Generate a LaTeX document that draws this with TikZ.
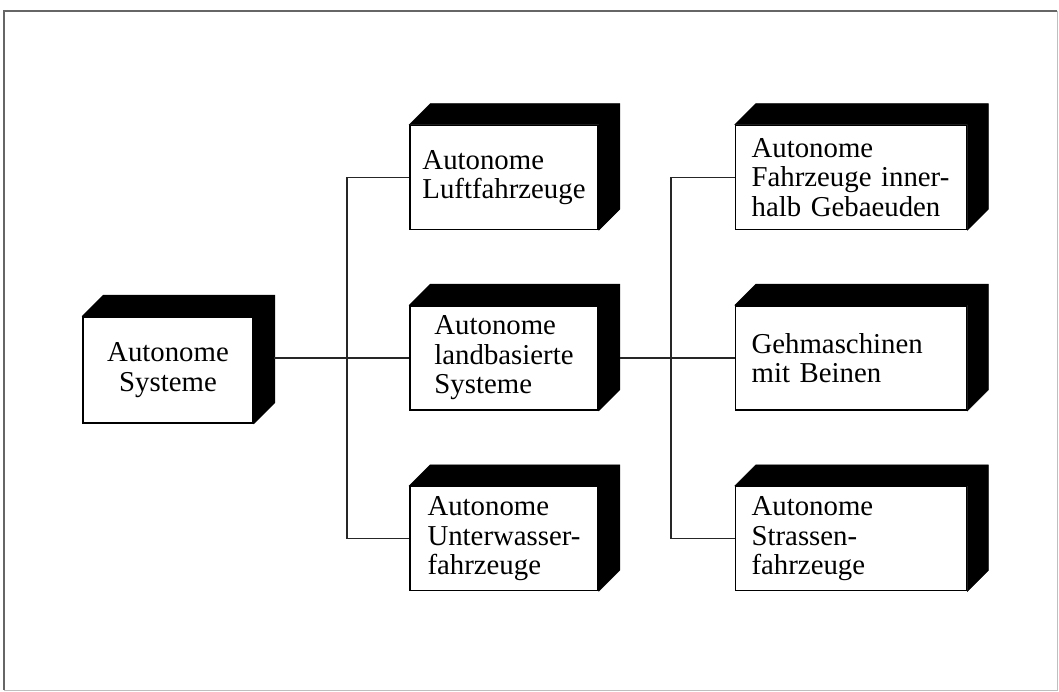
\documentclass[tikz,border=0pt]{standalone}
\usepackage{fontspec}
\setmainfont{Liberation Serif}
\usetikzlibrary{positioning}

% black top and right faces of a solid block
\newcommand\solidface[1]{%
  \filldraw[black] (#1.north west) -- ++(21,-21) -- ([shift={(21,-21)}]#1.north east)
    -- ([shift={(21,-21)}]#1.south east) -- (#1.south east) -- (#1.north east) -- cycle;}

\begin{document}
\begin{tikzpicture}[
    x=1pt, y=-1pt,
    node distance=75pt,
    block/.style={rectangle, draw=black, fill=white, line width=1.6pt,
                  minimum height=104pt, inner ysep=4pt, align=left,
                  font=\fontsize{28.8}{29.5}\selectfont},
    midblock/.style={block, minimum width=188pt},
    outblock/.style={block, text width=199pt, inner xsep=16pt},
    link/.style={line width=1.3pt, black!85}
]
\useasboundingbox (0,0) rectangle (1059,692);
\draw[black!60, line width=2pt] (4,690) -- (4,11) -- (1057,11);
\draw[black!25, line width=1pt] (1057,11) -- (1057,690) -- (4,690);

\node[block, minimum width=170pt, minimum height=106pt, align=center] (sys) at (168,370) {Autonome\\Systeme};

\node[midblock] (land) at (504,358) {Autonome\\landbasierte\\Systeme};
\node[midblock, above=of land] (luft)  {Autonome\\Luftfahrzeuge};
\node[midblock, below=of land] (unter) {Autonome\\Unterwasser-\\fahrzeuge};

\node[outblock, right=136pt of land] (geh) {Gehmaschinen\\mit Beinen};
\node[outblock, above=of geh] (fz)  {Autonome\\Fahrzeuge inner-\\halb Gebaeuden};
\node[outblock, below=of geh] (str) {Autonome\\Strassen-\\fahrzeuge};

\foreach \n in {sys, luft, land, unter, fz, geh, str}
    \solidface{\n};

\coordinate (jA) at (347,358);
\coordinate (jB) at (671,358);

\draw[link] ([xshift=20pt]sys.east |- land.west) -- (land.west);
\draw[link] (luft.west) -- (jA |- luft.west) -- (jA |- unter.west) -- (unter.west);
\draw[link] ([xshift=21pt]land.east) -- (geh.west);
\draw[link] (fz.west) -- (jB |- fz.west) -- (jB |- str.west) -- (str.west);
\end{tikzpicture}
\end{document}
